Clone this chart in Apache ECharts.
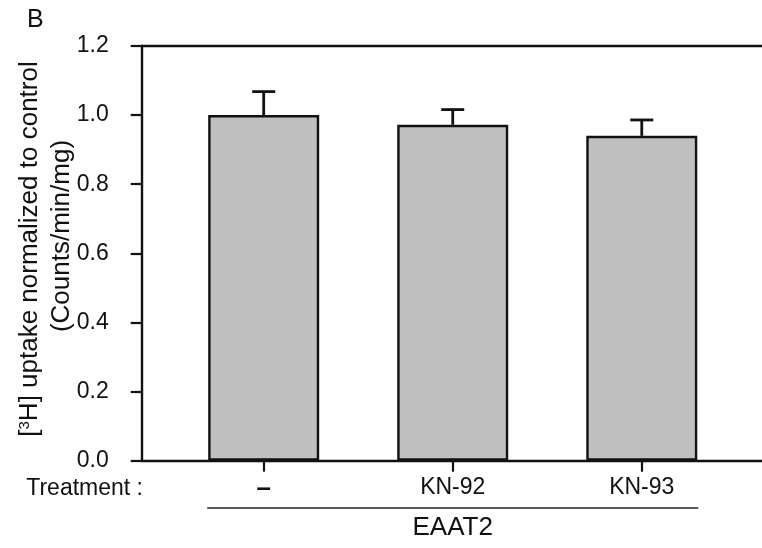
<!DOCTYPE html>
<html>
<head>
<meta charset="utf-8">
<script src="https://cdn.jsdelivr.net/npm/echarts@6/dist/echarts.min.js"></script>
<style>
  html, body { margin: 0; padding: 0; background: #fff; }
  #chart { width: 762px; height: 548px; }
</style>
</head>
<body>
<div id="chart"></div>
<script>
// Treatment groups and their positions along the x axis
const categories = ['–', 'KN-92', 'KN-93'];
const positions = [1, 2, 3];
// Mean uptake normalized to control, and SEM (upper error bar)
const means = [1.0, 0.972, 0.940];
const errors = [0.068, 0.044, 0.046];
// Y axis ticks
const yMin = 0, yMax = 1.2, yStep = 0.2;

const FONT = '"Liberation Sans", Arial, Helvetica, sans-serif';
const INK = '#111';
const chart = echarts.init(document.getElementById('chart'), null, { renderer: 'canvas' });

const barData = positions.map((p, i) => [p, means[i]]);
const errData = positions.map((p, i) => [p, means[i], means[i] + errors[i]]);

const option = {
  animation: false,
  backgroundColor: '#fff',
  grid: { left: 141.7, right: 0, top: 46, bottom: 87.3, containLabel: false },
  xAxis: [
    {
      type: 'value',
      min: 0.3547,
      max: 3.636,
      position: 'bottom',
      splitLine: { show: false },
      axisLine: { show: true, lineStyle: { color: INK, width: 2.4 } },
      axisTick: { show: true, customValues: positions, length: 11, lineStyle: { color: INK, width: 2.2 } },
      axisLabel: {
        show: true,
        customValues: positions,
        margin: 15,
        color: INK,
        fontSize: 23,
        fontFamily: FONT,
        formatter: v => {
          const i = positions.indexOf(Math.round(v));
          if (i < 0) return '';
          return i === 0 ? '{dash|' + categories[i] + '}' : categories[i];
        },
        rich: { dash: { fontSize: 26, fontWeight: 'bold', fontFamily: FONT, color: INK } }
      }
    },
    {
      type: 'value',
      min: 0.3547,
      max: 3.636,
      position: 'top',
      splitLine: { show: false },
      axisLine: { show: true, lineStyle: { color: INK, width: 2.4 } },
      axisTick: { show: false },
      axisLabel: { show: false }
    }
  ],
  yAxis: {
    type: 'value',
    min: yMin,
    max: yMax,
    interval: yStep,
    splitLine: { show: false },
    axisLine: { show: true, lineStyle: { color: INK, width: 2.4 } },
    axisTick: { show: true, length: 11, lineStyle: { color: INK, width: 2.2 } },
    axisLabel: {
      margin: 33,
      color: INK,
      fontSize: 23,
      fontFamily: FONT,
      formatter: v => v.toFixed(1)
    }
  },
  series: [
    {
      type: 'bar',
      data: barData,
      barWidth: 111,
      itemStyle: { color: '#c0c0c0', borderColor: INK, borderWidth: 2.4 },
      z: 2
    },
    {
      type: 'custom',
      data: errData,
      z: 3,
      renderItem: (params, api) => {
        const x = api.value(0);
        const base = api.coord([x, api.value(1)]);
        const top = api.coord([x, api.value(2)]);
        const half = 11.5;
        return {
          type: 'group',
          children: [
            { type: 'line', shape: { x1: base[0], y1: base[1], x2: top[0], y2: top[1] },
              style: { stroke: INK, lineWidth: 2.8 } },
            { type: 'line', shape: { x1: top[0] - half, y1: top[1], x2: top[0] + half, y2: top[1] },
              style: { stroke: INK, lineWidth: 2.8 } }
          ]
        };
      }
    }
  ]
};
chart.setOption(option);

// Group bracket under the treatments, spanning from the first to the last bar
const leftEdge = chart.convertToPixel({ xAxisIndex: 0 }, positions[0]) - 56.5;
const rightEdge = chart.convertToPixel({ xAxisIndex: 0 }, positions[positions.length - 1]) + 56.5;

chart.setOption({
  graphic: [
    { type: 'text', left: 27, top: 8,
      style: { text: 'B', fontSize: 25, fontFamily: FONT, fill: INK } },
    { type: 'text', x: 30, y: 249, rotation: Math.PI / 2,
      style: { text: '[{sup|3}H] uptake normalized to control', fontSize: 26, fontFamily: FONT, fill: INK,
               align: 'center', verticalAlign: 'middle',
               rich: { sup: { fontSize: 15, fontFamily: FONT, fill: INK, verticalAlign: 'top', padding: [0, 0, 10, 0] } } } },
    { type: 'text', x: 62, y: 236, rotation: Math.PI / 2,
      style: { text: '(Counts/min/mg)', fontSize: 26, fontFamily: FONT, fill: INK,
               align: 'center', verticalAlign: 'middle' } },
    { type: 'text', x: 143, y: 489,
      style: { text: 'Treatment :', fontSize: 23, fontFamily: FONT, fill: INK,
               align: 'right', verticalAlign: 'middle' } },
    { type: 'line', shape: { x1: leftEdge, y1: 508, x2: rightEdge, y2: 508 },
      style: { stroke: '#222', lineWidth: 1.6 } },
    { type: 'text', x: (leftEdge + rightEdge) / 2, y: 528,
      style: { text: 'EAAT2', fontSize: 26, fontFamily: FONT, fill: INK,
               align: 'center', verticalAlign: 'middle' } }
  ]
});
</script>
</body>
</html>
